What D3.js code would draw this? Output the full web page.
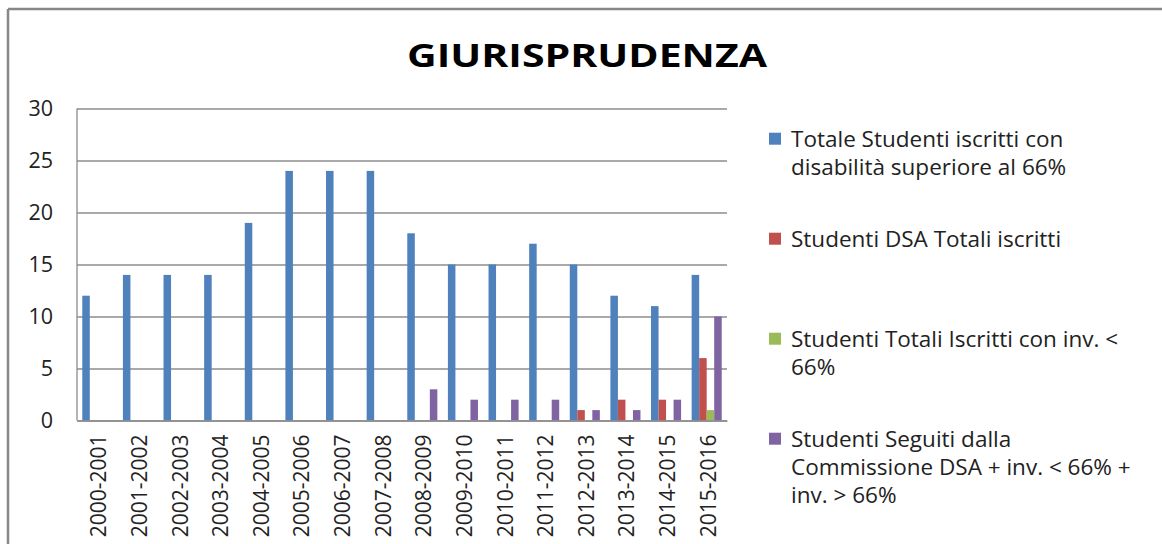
<!DOCTYPE html>
<html>
<head>
<meta charset="utf-8">
<script src="https://cdn.jsdelivr.net/npm/d3@7"></script>
<style>
  body { margin: 0; background: #fff; }
  svg { display: block; font-family: "Open Sans", Lato, sans-serif; }
</style>
</head>
<body>
<svg id="chart"></svg>
<script>
const categories = ["2000-2001", "2001-2002", "2002-2003", "2003-2004", "2004-2005", "2005-2006",
  "2006-2007", "2007-2008", "2008-2009", "2009-2010", "2010-2011", "2011-2012",
  "2012-2013", "2013-2014", "2014-2015", "2015-2016"];

const totaleDisabili = [12, 14, 14, 14, 19, 24, 24, 24, 18, 15, 15, 17, 15, 12, 11, 14];
const dsaIscritti    = [0, 0, 0, 0, 0, 0, 0, 0, 0, 0, 0, 0, 1, 2, 2, 6];
const invMinore66    = [0, 0, 0, 0, 0, 0, 0, 0, 0, 0, 0, 0, 0, 0, 0, 1];
const seguitiDSA     = [0, 0, 0, 0, 0, 0, 0, 0, 3, 2, 2, 2, 1, 1, 2, 10];

const seriesNames = [
  ["Totale Studenti iscritti con", "disabilità superiore al 66%"],
  ["Studenti DSA Totali iscritti"],
  ["Studenti Totali Iscritti con inv. <", "66%"],
  ["Studenti Seguiti dalla", "Commissione DSA + inv. < 66% +", "inv. > 66%"]
];
const yTicks = [0, 5, 10, 15, 20, 25, 30];

const series = [totaleDisabili, dsaIscritti, invMinore66, seguitiDSA];
const colors = ["#4f81bd", "#c0504d", "#9bbb59", "#8064a2"];

const width = 1162;
const height = 544;
const plot = { left: 77, right: 727, top: 108.5, bottom: 420.5 };

const svg = d3.select("#chart")
              .attr("width", width)
              .attr("height", height);

// frame (only top and left edges are visible)
svg.append("line")
   .attr("x1", 8).attr("x2", width).attr("y1", 9).attr("y2", 9)
   .attr("stroke", "#878787").attr("stroke-width", 2.5);
svg.append("line")
   .attr("x1", 8).attr("x2", 8).attr("y1", 9).attr("y2", height)
   .attr("stroke", "#878787").attr("stroke-width", 2.5);

svg.append("text")
   .attr("x", 587)
   .attr("y", 67)
   .attr("text-anchor", "middle")
   .attr("font-size", 33)
   .attr("font-weight", "bold")
   .attr("fill", "#000")
   .attr("textLength", 360)
   .attr("lengthAdjust", "spacingAndGlyphs")
   .text("GIURISPRUDENZA");

const xScale = d3.scaleBand()
                 .domain(categories)
                 .range([plot.left, plot.right])
                 .paddingInner(0.26)
                 .paddingOuter(0.13);

const xInner = d3.scaleBand()
                 .domain(d3.range(series.length))
                 .range([0, xScale.bandwidth()]);

const yScale = d3.scaleLinear()
                 .domain([0, 30])
                 .range([plot.bottom, plot.top]);

// gridlines + y labels
const yAxis = d3.axisLeft(yScale)
                .tickValues(yTicks)
                .tickSize(-(plot.right - plot.left))
                .tickPadding(24);

const gy = svg.append("g")
              .attr("transform", `translate(${plot.left},0)`)
              .call(yAxis);
gy.select(".domain").remove();
gy.selectAll(".tick line").attr("stroke", "#8c8c8c").attr("stroke-width", 1.3);
gy.selectAll(".tick text")
  .attr("font-size", 21.5)
  .attr("fill", "#222")
  .attr("font-family", "'Open Sans', sans-serif");

svg.append("line")
   .attr("x1", plot.left).attr("x2", plot.left)
   .attr("y1", plot.top).attr("y2", plot.bottom)
   .attr("stroke", "#8c8c8c").attr("stroke-width", 1.3);

// bars
const groups = svg.append("g")
  .selectAll("g")
  .data(categories)
  .join("g")
  .attr("transform", d => `translate(${xScale(d)},0)`);

groups.selectAll("rect")
  .data((d, i) => series.map((s, k) => ({ k, v: s[i] })))
  .join("rect")
  .attr("x", d => xInner(d.k))
  .attr("y", d => yScale(d.v))
  .attr("width", xInner.bandwidth())
  .attr("height", d => yScale(0) - yScale(d.v))
  .attr("fill", d => colors[d.k]);

// x axis
const xAxis = d3.axisBottom(xScale).tickSize(0).tickPadding(14);
const gx = svg.append("g")
              .attr("transform", `translate(0,${plot.bottom})`)
              .call(xAxis);
gx.select(".domain").attr("stroke", "#8c8c8c").attr("stroke-width", 1.3);
gx.selectAll(".tick text")
  .attr("font-size", 21)
  .attr("fill", "#222")
  .attr("font-family", "'Open Sans', sans-serif")
  .attr("text-anchor", "end")
  .attr("dy", null)
  .attr("transform", "rotate(-90)")
  .attr("x", -14)
  .attr("y", 1)
  .attr("dominant-baseline", "central");

// legend
const legendTop = [146.7, 246.7, 346.7, 446.7];
const legend = svg.append("g");
seriesNames.forEach((lines, k) => {
  legend.append("rect")
        .attr("x", 769)
        .attr("y", legendTop[k] - 14)
        .attr("width", 12)
        .attr("height", 12)
        .attr("fill", colors[k]);
  const t = legend.append("text")
                  .attr("x", 791)
                  .attr("y", legendTop[k])
                  .attr("font-size", 22.5)
                  .attr("fill", "#222");
  lines.forEach((line, j) => {
    t.append("tspan")
     .attr("x", 791)
     .attr("dy", j === 0 ? 0 : 28.3)
     .text(line);
  });
});
</script>
</body>
</html>
